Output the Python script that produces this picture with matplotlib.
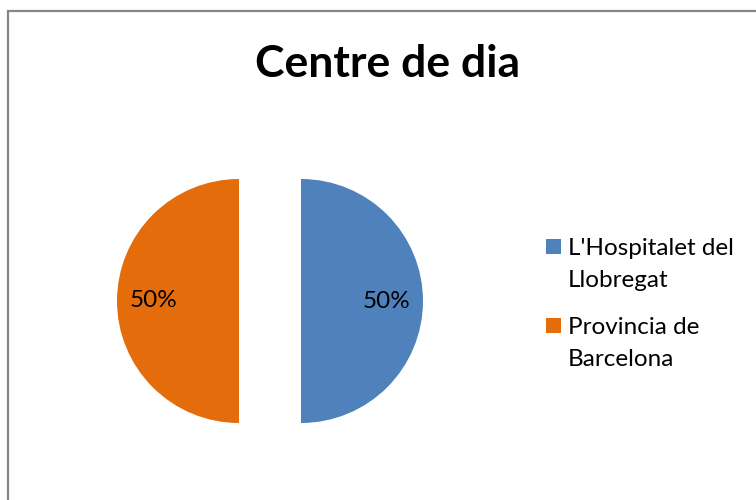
import matplotlib
matplotlib.use("Agg")
import matplotlib.pyplot as plt
from matplotlib.patches import Rectangle

title = "Centre de dia"
categories = ["L'Hospitalet del\nLlobregat", "Provincia de\nBarcelona"]
values = [50, 50]
colors = ["#4F81BD", "#E46C0A"]

plt.rcParams['font.family'] = ['Lato', 'DejaVu Sans']

W, H = 756, 500
fig = plt.figure(figsize=(W / 100, H / 100), dpi=100)

# outer frame
fig.add_artist(Rectangle((8 / W, -0.1), 1.2, (H - 11) / H + 0.1, transform=fig.transFigure,
                         fill=False, edgecolor="#868686", linewidth=1.6))

side = 300
cx, cy = 270, H - 301
ax = fig.add_axes([(cx - side / 2) / W, (cy - side / 2) / H, side / W, side / H])
wedges, texts, autotexts = ax.pie(values, colors=colors, startangle=90, counterclock=False,
                                  explode=[0.254, 0.254], autopct='%1.0f%%', pctdistance=0.70,
                                  radius=1.0, textprops={'fontsize': 17.5, 'color': 'black'})
lim = side / 2 / 122
ax.set_xlim(-lim, lim)
ax.set_ylim(-lim, lim)
ax.set_aspect('equal')
ax.axis('off')

fig.text(388 / W, (H - 77) / H, title, ha='center', va='baseline', fontsize=32, fontweight='bold')

# legend: square aligned with first line of each (two-line) label
entry_baselines = [255, 334]
line_step = 32
for lab, col, b0 in zip(categories, colors, entry_baselines):
    fig.add_artist(Rectangle((546 / W, (H - b0 + 1) / H), 15 / W, 15 / H,
                             transform=fig.transFigure, facecolor=col, edgecolor='none'))
    for i, line in enumerate(lab.split("\n")):
        fig.text(568 / W, (H - b0 - i * line_step) / H, line, ha='left', va='baseline',
                 fontsize=17.5, color='black')

fig.savefig("out.png", dpi=100)
